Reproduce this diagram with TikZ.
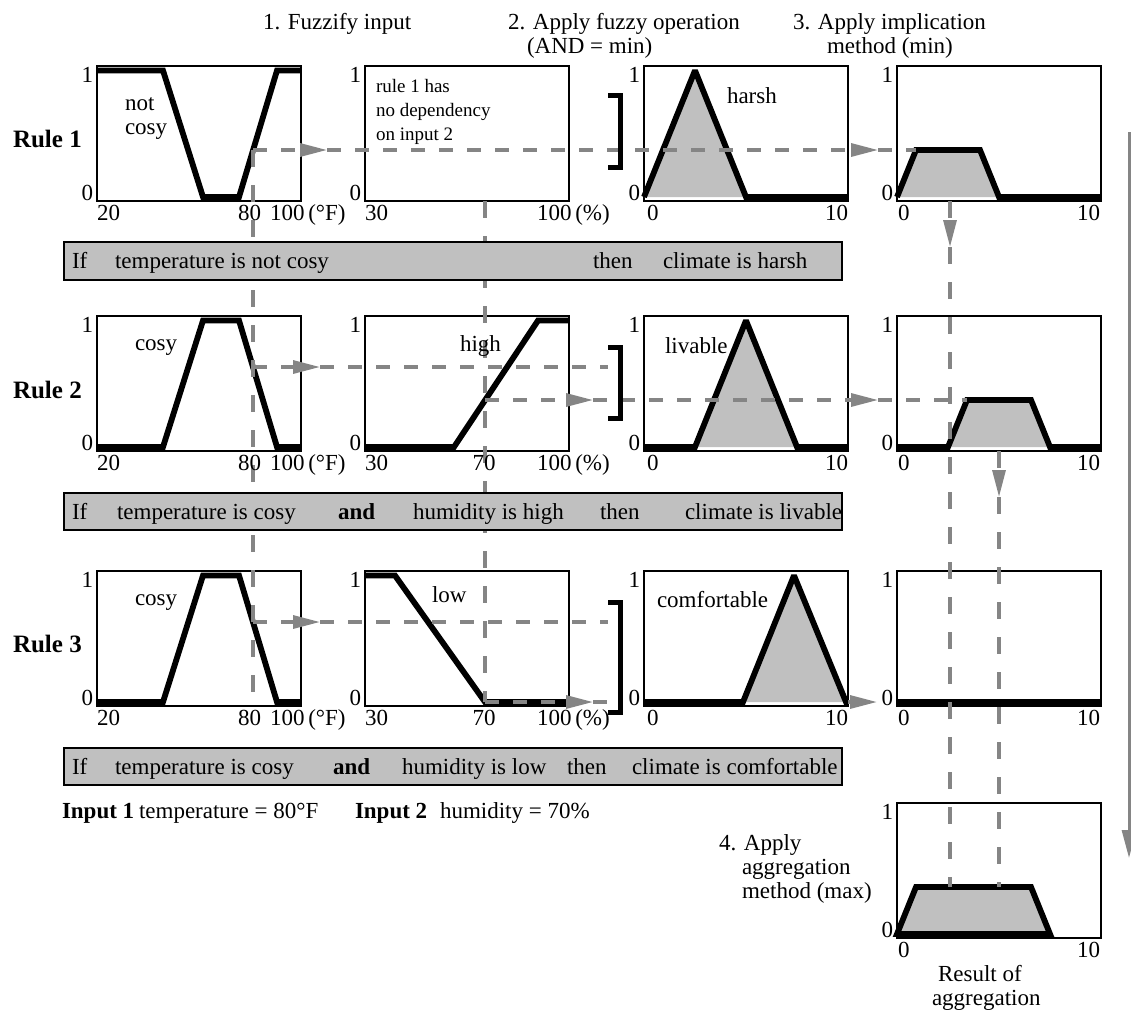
\documentclass[tikz,border=0pt]{standalone}
\usepackage{fontspec}
\setmainfont{Liberation Serif}
\usetikzlibrary{arrows.meta}
\definecolor{guidegray}{HTML}{858585}
\definecolor{areagray}{HTML}{C0C0C0}
\begin{document}
\begin{tikzpicture}[x=1pt, y=-1pt,
  txt/.style={font=\fontsize{23}{27}\selectfont, inner sep=0pt, outer sep=0pt, anchor=base west},
  note/.style={font=\fontsize{19}{24}\selectfont, inner sep=0pt, outer sep=0pt, anchor=base west},
  head/.style={txt, font=\fontsize{25}{29}\selectfont\bfseries},
  tick/.style={txt, anchor=base east},
  panel/.style={draw, line width=1.4pt, fill=white, minimum width=204pt, minimum height=135pt,
                inner sep=0pt, outer sep=0pt, anchor=north west},
  bar/.style={draw, line width=1.4pt, fill=areagray, minimum width=778pt,
              inner sep=0pt, outer sep=0pt, anchor=north west},
  mf/.style={line width=5.8pt, line join=miter, miter limit=2},
  area/.style={fill=areagray},
  guide/.style={draw=guidegray, line width=3.2pt, dash pattern=on 14pt off 14pt},
  vguide/.style={draw=guidegray, line width=3.2pt, dash pattern=on 17pt off 18pt},
  tip/.style={-{Triangle[length=27pt, width=13pt]}},
  brk/.style={line width=5pt},
]
\useasboundingbox (0,0) rectangle (1131,1015);

% ---------- panels ----------
\foreach \r/\T in {1/66, 2/316, 3/571} {
  \node[panel] (p\r1) at (97,\T) {};
  \node[panel] (p\r2) at (365,\T) {};
  \node[panel] (p\r3) at (644,\T) {};
  \node[panel] (p\r4) at (897,\T) {};
}
\node[panel] (pagg) at (897,803) {};

% ---------- rule 1 ----------
\begin{scope}[shift={(p11.north west)}]
  \draw[mf] (0,4.5) -- (66,4.5) -- (106,131) -- (142,131) -- (180,4.5) -- (204,4.5);
\end{scope}
\begin{scope}[shift={(p13.north west)}]
  \fill[area] (0,131) -- (51,4.5) -- (102,131) -- cycle;
  \draw[mf] (0,131) -- (51,4.5) -- (102,131) -- (204,131);
\end{scope}
\begin{scope}[shift={(p14.north west)}]
  \fill[area] (0,131) -- (19,84) -- (83,84) -- (102,131) -- cycle;
  \draw[mf] (0,131) -- (19,84) -- (83,84) -- (102,131) -- (204,131);
\end{scope}

% ---------- rule 2 ----------
\begin{scope}[shift={(p21.north west)}]
  \draw[mf] (0,131) -- (66,131) -- (106,4.5) -- (142,4.5) -- (180,131) -- (204,131);
\end{scope}
\begin{scope}[shift={(p22.north west)}]
  \draw[mf] (0,131) -- (89,131) -- (173,4.5) -- (204,4.5);
\end{scope}
\begin{scope}[shift={(p23.north west)}]
  \fill[area] (51,131) -- (102,4.5) -- (153,131) -- cycle;
  \draw[mf] (0,131) -- (51,131) -- (102,4.5) -- (153,131) -- (204,131);
\end{scope}
\begin{scope}[shift={(p24.north west)}]
  \fill[area] (51,131) -- (70,84) -- (134,84) -- (153,131) -- cycle;
  \draw[mf] (0,131) -- (51,131) -- (70,84) -- (134,84) -- (153,131) -- (204,131);
\end{scope}

% ---------- rule 3 ----------
\begin{scope}[shift={(p31.north west)}]
  \draw[mf] (0,131) -- (66,131) -- (106,4.5) -- (142,4.5) -- (180,131) -- (204,131);
\end{scope}
\begin{scope}[shift={(p32.north west)}]
  \draw[mf] (0,4.5) -- (30,4.5) -- (120,131) -- (204,131);
\end{scope}
\begin{scope}[shift={(p33.north west)}]
  \fill[area] (99,131) -- (150,4.5) -- (202,131) -- cycle;
  \draw[mf] (0,131) -- (99,131) -- (150,4.5) -- (202,131) -- (204,131);
\end{scope}
\begin{scope}[shift={(p34.north west)}]
  \draw[mf] (0,131) -- (204,131);
\end{scope}

% ---------- aggregation ----------
\begin{scope}[shift={(pagg.north west)}]
  \filldraw[mf, fill=areagray] (0,131) -- (19,84) -- (134,84) -- (153,131) -- cycle;
\end{scope}

% ---------- guide points ----------
\coordinate (t1) at (253,150);  \coordinate (a1) at (327,150);
\coordinate (o1) at (878,150);  \coordinate (i1) at (916,150);
\coordinate (t2) at (253,367);  \coordinate (a2) at (320,367);  \coordinate (b2) at (608,367);
\coordinate (h2) at (485,400);  \coordinate (c2) at (593,400);
\coordinate (o2) at (878,400);  \coordinate (i2) at (967,400);
\coordinate (t3) at (253,622);  \coordinate (a3) at (320,622);  \coordinate (b3) at (608,622);
\coordinate (h3) at (485,702);  \coordinate (c3) at (593,702);  \coordinate (e3) at (612,702);
\coordinate (s3) at (848,702);  \coordinate (o3) at (877,702);
\coordinate (vt) at (253,707);
\coordinate (vh0) at (485,201); \coordinate (vh) at (485,702);
\coordinate (d1s) at (950,201); \coordinate (d1a) at (950,247); \coordinate (g1) at (950,887);
\coordinate (d2s) at (999,451); \coordinate (d2a) at (999,497); \coordinate (g2) at (999,887);
\coordinate (rs) at (1129,132); \coordinate (re) at (1129,858);

% ---------- guides ----------
\draw[vguide] (t1) -- (vt);
\draw[vguide] (vh0) -- (vh);
\draw[guide, tip] (t1) -- (a1);
\draw[guide, tip] (a1) -- (o1);
\draw[guide] (o1) -- (i1);
\draw[guide, tip] (t2) -- (a2);
\draw[guide] (a2) -- (b2);
\draw[guide, tip] (h2) -- (c2);
\draw[guide, tip] (c2) -- (o2);
\draw[guide] (o2) -- (i2);
\draw[guide, tip] (t3) -- (a3);
\draw[guide] (a3) -- (b3);
\draw[guide, tip] (h3) -- (c3);
\draw[guide] (c3) -- (e3);
\draw[guide, tip] (s3) -- (o3);
\draw[vguide, tip] (d1s) -- (d1a);
\draw[vguide] (d1a) -- (g1);
\draw[vguide, tip] (d2s) -- (d2a);
\draw[vguide] (d2a) -- (g2);
\draw[draw=guidegray, line width=3pt, -{Triangle[length=28pt, width=14pt]}] (rs) -- (re);

% ---------- rule bars ----------
\node[bar, minimum height=38pt] (bar1) at (64,242) {};
\node[bar, minimum height=37pt] (bar2) at (64,493) {};
\node[bar, minimum height=37pt] (bar3) at (64,748) {};

% ---------- min brackets ----------
\draw[brk] (608,95) -- (620.5,95) -- (620.5,167) -- (608,167);
\draw[brk] (608,347) -- (620.5,347) -- (620.5,418) -- (608,418);
\draw[brk] (608,602) -- (620.5,602) -- (620.5,712) -- (608,712);

% ---------- headings ----------
\node[txt] (h1) at (263,29) {1. Fuzzify input};
\node[txt] (h2t) at (508,29) {2. Apply fuzzy operation};
\node[txt] (h2u) at (527,53) {(AND = min)};
\node[txt] (h3t) at (793,29) {3. Apply implication};
\node[txt] (h3u) at (827,53) {method (min)};
\node[head] (r1) at (13,147) {Rule 1};
\node[head] (r2) at (13,398) {Rule 2};
\node[head] (r3) at (13,652) {Rule 3};

% ---------- axis labels ----------
\foreach \r/\T/\B in {1/66/201, 2/316/451, 3/571/706} {
  \foreach \c/\L in {1/97, 2/365, 3/644, 4/897} {
    \node[tick] (one\r\c) at (\L-4,\T+16) {1};
    \node[tick] (zero\r\c) at (\L-4,\B-1) {0};
  }
  \node[txt] (lo\r1) at (97,\B+19) {20};
  \node[txt] (mid\r1) at (238,\B+19) {80};
  \node[txt] (hi\r1) at (270,\B+19) {100\,(°F)};
  \node[txt] (lo\r2) at (365,\B+19) {30};
  \node[txt] (hi\r2) at (537,\B+19) {100\,(\%)};
  \node[txt] (lo\r3) at (647,\B+19) {0};
  \node[tick] (hi\r3) at (848,\B+19) {10};
  \node[txt] (lo\r4) at (898,\B+19) {0};
  \node[tick] (hi\r4) at (1100,\B+19) {10};
}
\node[txt, anchor=base] (mid22) at (484,470) {70};
\node[txt, anchor=base] (mid32) at (484,725) {70};
\node[tick] (oneagg) at (893,819) {1};
\node[tick] (zeroagg) at (893,937) {0};
\node[txt] (loagg) at (898,957) {0};
\node[tick] (hiagg) at (1100,957) {10};

% ---------- set names ----------
\node[txt] (mf11a) at (125,110) {not};
\node[txt] (mf11b) at (125,134) {cosy};
\node[txt] (mf21) at (135,350) {cosy};
\node[txt] (mf31) at (135,605) {cosy};
\node[txt] (mf22) at (460,351) {high};
\node[txt] (mf32) at (432,602) {low};
\node[txt] (mf13) at (727,103) {harsh};
\node[txt] (mf23) at (665,353) {livable};
\node[txt] (mf33) at (657,607) {comfortable};
\node[note] (nt1) at (376,92) {rule 1 has};
\node[note] (nt2) at (376,116) {no dependency};
\node[note] (nt3) at (376,140) {on input 2};

% ---------- rule texts ----------
\node[txt] (b1a) at (72,268) {If};
\node[txt] (b1b) at (115,268) {temperature is not cosy};
\node[txt] (b1c) at (593,268) {then};
\node[txt] (b1d) at (663,268) {climate is harsh};
\node[txt] (b2a) at (72,519) {If};
\node[txt] (b2b) at (117,519) {temperature is cosy};
\node[txt] (b2c) at (338,519) {\textbf{and}};
\node[txt] (b2d) at (413,519) {humidity is high};
\node[txt] (b2e) at (600,519) {then};
\node[txt] (b2f) at (685,519) {climate is livable};
\node[txt] (b3a) at (72,774) {If};
\node[txt] (b3b) at (115,774) {temperature is cosy};
\node[txt] (b3c) at (333,774) {\textbf{and}};
\node[txt] (b3d) at (402,774) {humidity is low};
\node[txt] (b3e) at (567,774) {then};
\node[txt] (b3f) at (632,774) {climate is comfortable};

% ---------- inputs and aggregation notes ----------
\node[txt] (in1) at (62,818) {\textbf{Input 1}};
\node[txt] (in1v) at (139,818) {temperature = 80°F};
\node[txt] (in2) at (355,818) {\textbf{Input 2}};
\node[txt] (in2v) at (440,818) {humidity = 70\%};
\node[txt] (ag1) at (719,850) {4. Apply};
\node[txt] (ag2) at (742,874) {aggregation};
\node[txt] (ag3) at (742,898) {method (max)};
\node[txt] (res1) at (938,981) {Result of};
\node[txt] (res2) at (932,1005) {aggregation};
\end{tikzpicture}
\end{document}
